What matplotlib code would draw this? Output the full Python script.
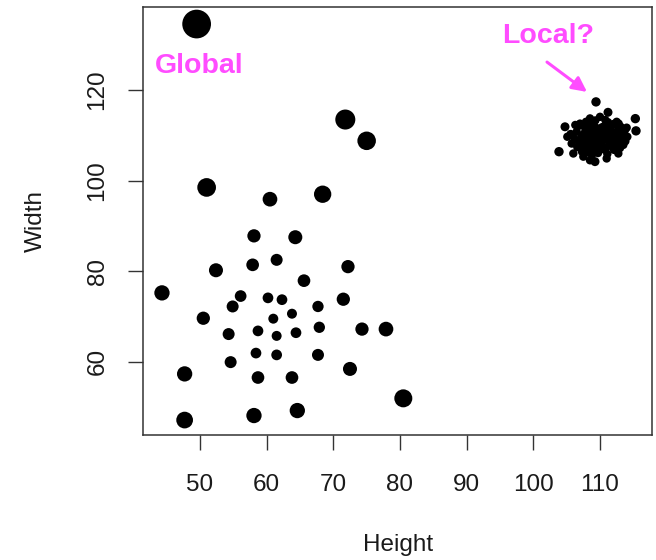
import matplotlib
matplotlib.use("Agg")
import matplotlib.pyplot as plt
import numpy as np

plt.rcParams['font.family'] = ['Liberation Sans', 'DejaVu Sans']

# ---- data: main scattered group (Height, Width, outlier score) ----
height_main = [51.0, 60.5, 68.4, 58.1, 64.3, 52.4, 57.9, 61.5, 72.2, 44.3,
               65.6, 56.1, 60.2, 62.3, 54.9, 67.7, 71.5, 50.5, 61.0, 63.8,
               54.3, 58.7, 61.5, 64.4, 67.9, 74.3, 77.9, 54.6, 58.4, 61.5,
               67.7, 47.7, 58.7, 63.8, 72.5, 80.5, 47.7, 58.1, 64.6,
               49.5, 71.8, 75.0]
width_main = [98.5, 95.9, 97.0, 87.8, 87.5, 80.2, 81.4, 82.5, 81.0, 75.2,
              77.9, 74.5, 74.1, 73.7, 72.2, 72.2, 73.8, 69.6, 69.5, 70.6,
              66.1, 66.8, 65.7, 66.4, 67.6, 67.2, 67.2, 59.9, 61.9, 61.5,
              61.5, 57.3, 56.5, 56.5, 58.4, 51.9, 47.1, 48.1, 49.2,
              134.6, 113.5, 108.8]
score_main = [2.49, 1.96, 2.31, 1.77, 1.87, 1.87, 1.69, 1.60, 1.77, 2.04,
              1.69, 1.56, 1.43, 1.43, 1.60, 1.51, 1.77, 1.77, 1.33, 1.33,
              1.60, 1.43, 1.33, 1.43, 1.51, 1.77, 1.96, 1.60, 1.43, 1.43,
              1.60, 2.04, 1.69, 1.69, 1.87, 2.40, 2.23, 2.04, 2.04,
              3.83, 2.67, 2.47]

# ---- data: dense cluster ----
height_cluster = [109.4, 111.2, 115.3, 115.4, 104.75, 103.85, 109.25,
                  105.1, 105.75, 106.0, 107.0, 108.5, 110.0, 112.5, 113.75,
                  114.1, 113.5, 112.75, 111.0, 108.5, 107.5,
                  106.5, 107.2, 107.8, 108.1, 108.6, 108.9, 109.1, 109.5, 109.8, 110.2,
                  110.4, 110.7, 111.0, 111.3, 111.6, 111.9, 112.3, 112.6, 112.9, 113.2,
                  106.9, 107.5, 107.9, 108.3, 108.7, 109.0, 109.3, 109.7, 110.0, 110.3,
                  110.6, 110.9, 111.2, 111.5, 111.8, 112.1, 112.4, 112.7, 113.0, 113.4,
                  107.0, 107.6, 108.2, 108.5, 108.8, 109.2, 109.6, 110.1, 110.5, 110.8,
                  111.1, 111.4, 111.7, 112.0, 112.2, 112.5, 112.8, 113.1, 113.6, 114.0,
                  106.2, 106.6, 107.3, 107.7, 108.0, 108.4, 109.4, 109.9, 110.6, 111.0,
                  111.5, 112.0, 112.9, 113.8, 105.6, 106.3]
width_cluster = [117.4, 115.1, 113.7, 111.0, 111.9, 106.4, 104.2,
                 109.7, 108.2, 106.0, 112.6, 113.75, 114.1, 113.0, 111.2,
                 109.7, 107.9, 106.0, 104.9, 104.5, 105.3,
                 110.8, 109.5, 111.6, 108.3, 110.2, 112.4, 107.1, 109.3, 111.0, 108.6,
                 110.3, 112.1, 107.4, 109.8, 111.3, 108.5, 110.6, 112.2, 109.1, 110.9,
                 108.1, 107.2, 113.0, 106.2, 109.0, 110.9, 113.3, 106.1, 109.9, 111.8,
                 106.9, 110.8, 112.9, 108.0, 110.1, 106.8, 108.0, 111.0, 107.2, 108.6,
                 112.2, 110.4, 111.1, 107.5, 105.7, 108.4, 110.6, 107.6, 109.2, 113.4,
                 105.9, 111.9, 109.4, 112.5, 109.8, 107.3, 112.6, 111.9, 109.9, 111.7,
                 109.2, 107.4, 106.4, 108.7, 109.8, 112.7, 111.7, 108.2, 110.0, 109.0,
                 110.5, 107.6, 110.3, 108.7, 110.3, 112.3]
score_cluster = [1.25, 1.2, 1.25, 1.25, 1.2, 1.25, 1.2] + [1.12] * (len(height_cluster) - 7)

x_ticks = [50, 60, 70, 80, 90, 100, 110]
y_ticks = [60, 80, 100, 120]

annotations = ["Global", "Local?"]

# ---- figure ----
DPI = 100
fig = plt.figure(figsize=(6.56, 5.60), dpi=DPI)
ax = fig.add_axes([143.3 / 656, 1 - 435 / 560, (652 - 143.3) / 656, (435 - 7.3) / 560])

base_px = 7.5
def sizes(scores):
    return [(s * base_px * 72 / DPI) ** 2 for s in scores]

ax.scatter(height_main, width_main, s=sizes(score_main), c='black',
           edgecolors='none', zorder=3)
ax.scatter(height_cluster, width_cluster, s=sizes(score_cluster), c='black',
           edgecolors='none', zorder=3)

magenta = '#FF4CFF'
ax.text(49.85, 125.3, annotations[0], color=magenta, fontsize=20.5,
        fontweight='bold', ha='center', va='center')
ax.text(102.2, 131.9, annotations[1], color=magenta, fontsize=20.5,
        fontweight='bold', ha='center', va='center')
ax.annotate('', xy=(108.05, 119.6), xytext=(102.05, 126.2),
            arrowprops=dict(arrowstyle='-|>', color=magenta, lw=2.2,
                            mutation_scale=22, shrinkA=0, shrinkB=0))

ax.set_xlim(41.5, 117.8)
ax.set_ylim(43.8, 138.3)
ax.set_xticks(x_ticks)
ax.set_yticks(y_ticks)
ax.set_xticklabels([str(t) for t in x_ticks])
ax.set_yticklabels([str(t) for t in y_ticks], rotation=90, va='center')

edge = '#333333'
for sp in ax.spines.values():
    sp.set_color(edge)
    sp.set_linewidth(1.1)
ax.tick_params(axis='both', direction='out', length=11, width=1.0, color=edge,
               labelsize=17.5, labelcolor='#1a1a1a')
ax.tick_params(axis='x', pad=17)
ax.tick_params(axis='y', pad=14)

ax.set_xlabel('Height', fontsize=17.5, color='#1a1a1a')
ax.set_ylabel('Width', fontsize=17.5, color='#1a1a1a')
ax.xaxis.label.set_va('center')
ax.yaxis.label.set_va('center')
ax.xaxis.set_label_coords(0.5, -(545 - 435) / (435 - 7.3))
ax.yaxis.set_label_coords(-(143.3 - 36) / (652 - 143.3), 0.5)

fig.savefig('out.png', dpi=DPI)
